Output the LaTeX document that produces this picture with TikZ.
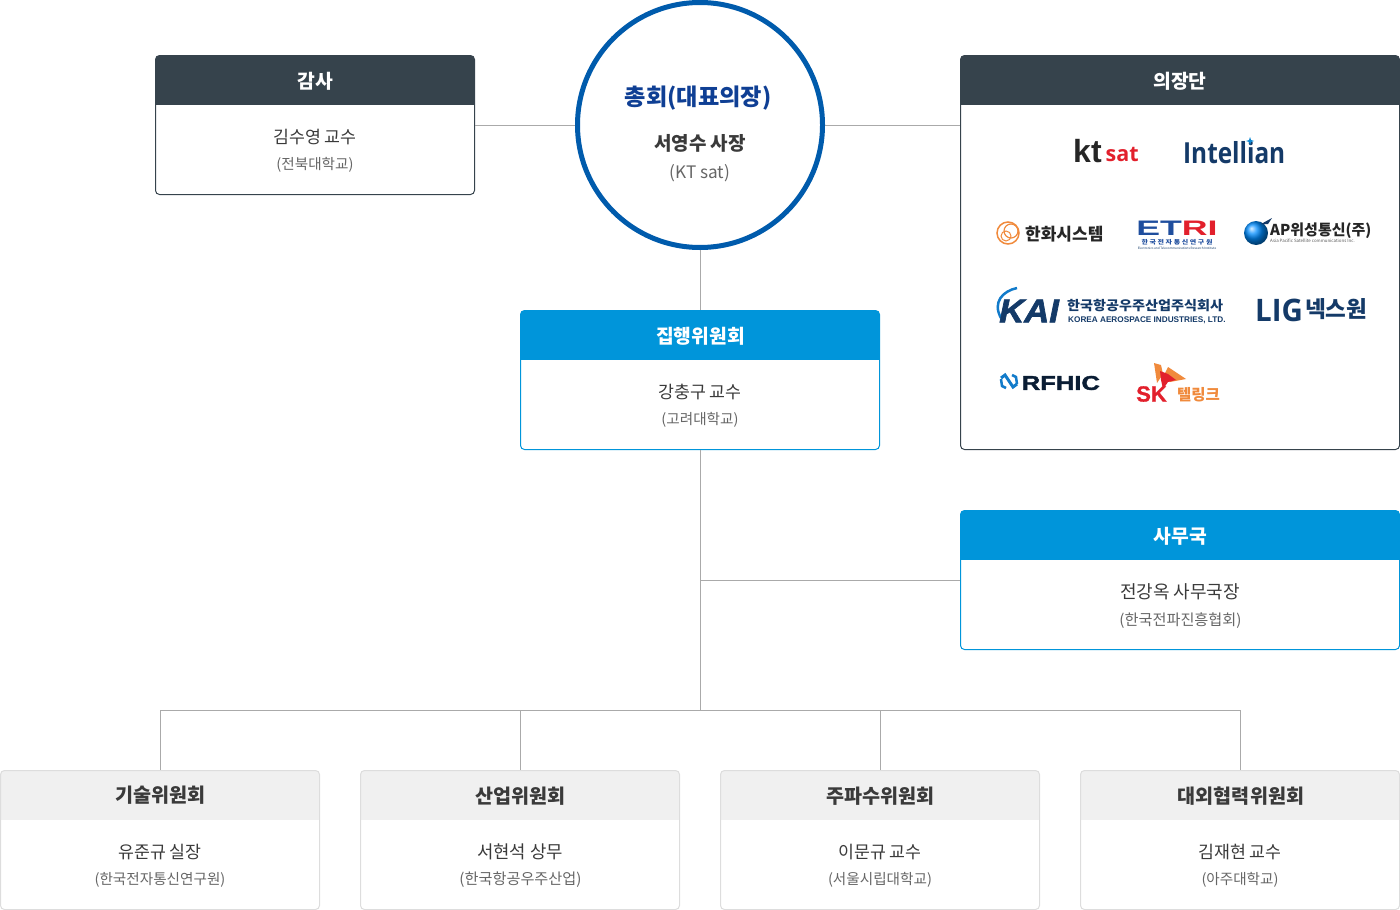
\documentclass[tikz,border=0pt]{standalone}
\usepackage{fontspec}
\setmainfont{Noto Sans CJK KR}
\newfontfamily\logofont{Liberation Sans}
\newfontfamily\openfont{Open Sans}
\usetikzlibrary{positioning}
\definecolor{slatehead}{HTML}{36434C}
\definecolor{skyhead}{HTML}{0095DA}
\definecolor{palehead}{HTML}{F0F0F0}
\definecolor{paleline}{HTML}{DDDDDD}
\definecolor{ringblue}{HTML}{005BAC}
\definecolor{titleblue}{HTML}{0F3F94}
\definecolor{linkgray}{HTML}{AAAAAA}
\definecolor{namegray}{HTML}{3A3A3A}
\definecolor{orggray}{HTML}{666666}
\definecolor{navylogo}{HTML}{143A68}
\definecolor{etriblue}{HTML}{1F4E9E}
\definecolor{redlogo}{HTML}{E2202C}
\definecolor{orangelogo}{HTML}{F08A3C}
\tikzset{
    orgbox/.style n args={4}{draw=#1, line width=1pt, rounded corners=4pt, inner sep=0pt,
        minimum width=#3, minimum height=#4,
        path picture={\fill[#2, sharp corners] (path picture bounding box.north west) rectangle ([yshift=-49.5pt]path picture bounding box.north east);}},
    link/.style={draw=linkgray, line width=1pt},
    whitehead/.style={text=white, font=\fontsize{19.3}{22}\selectfont\bfseries},
    darkhead/.style={text=namegray, font=\fontsize{19.6}{24}\selectfont\bfseries},
    nametext/.style={text=namegray, font=\fontsize{17.3}{22}\selectfont},
    orgtext/.style={text=orggray, font=\fontsize{14.6}{18}\selectfont},
    wideorgtext/.style={text=orggray, font=\fontsize{15.2}{18}\selectfont},
    logotext/.style={inner sep=0pt, anchor=west},
}
\begin{document}
\begin{tikzpicture}[x=1pt,y=-1pt]
    \useasboundingbox (0,0) rectangle (1400,910);

    % boxes
    \node[draw=ringblue, line width=5pt, circle, minimum size=245pt, inner sep=0pt] (chair) at (700,125) {};
    \node[orgbox={slatehead}{slatehead}{319pt}{139pt}] (audit) at (315,125) {};
    \node[orgbox={slatehead}{slatehead}{439pt}{394pt}] (board) at (1180,252.5) {};
    \node[orgbox={skyhead}{skyhead}{359pt}{139pt}] (exec) at (700,380) {};
    \node[orgbox={skyhead}{skyhead}{439pt}{139pt}] (office) at (1180,580) {};
    \node[orgbox={paleline}{palehead}{319pt}{139pt}] (tech) at (160,840) {};
    \node[orgbox={paleline}{palehead}{319pt}{139pt}] (industry) at (520,840) {};
    \node[orgbox={paleline}{palehead}{319pt}{139pt}] (spectrum) at (880,840) {};
    \node[orgbox={paleline}{palehead}{319pt}{139pt}] (relations) at (1240,840) {};
    \coordinate (hub) at (700,710);

    % connectors
    \draw[link] (audit.east) -- (chair.west);
    \draw[link] (chair.east) -- (chair.east -| board.west);
    \draw[link] (chair.south) -- (exec.north);
    \draw[link] (exec.south) -- (hub);
    \draw[link] (office.west -| hub) -- (office.west);
    \draw[link] (hub) -| (tech.north);
    \draw[link] (hub) -| (industry.north);
    \draw[link] (hub) -| (spectrum.north);
    \draw[link] (hub) -| (relations.north);

    % chair text
    \node[text=titleblue, font=\fontsize{23.2}{28}\selectfont\bfseries] (chairHead) at (698,98.5) {총회(대표의장)};
    \node[text=namegray, font=\fontsize{19}{22}\selectfont\bfseries] (chairName) at (700,143) {서영수 사장};
    \node[text=orggray, font=\fontsize{17.2}{22}\selectfont] (chairOrg) at (700,173.5) {(KT sat)};

    % audit text
    \node[whitehead] (auditHead) at (315,81) {감사};
    \node[nametext] (auditName) at (315,137) {김수영 교수};
    \node[orgtext] (auditOrg) at (315,165) {(전북대학교)};

    % board head
    \node[whitehead] (boardHead) at (1180,81) {의장단};

    % exec text
    \node[whitehead] (execHead) at (700.5,336) {집행위원회};
    \node[nametext] (execName) at (700,392) {강충구 교수};
    \node[orgtext] (execOrg) at (700,420) {(고려대학교)};

    % office text
    \node[whitehead] (officeHead) at (1180.5,536) {사무국};
    \node[text=namegray, font=\fontsize{18}{22}\selectfont] (officeName) at (1180,592) {전강옥 사무국장};
    \node[wideorgtext] (officeOrg) at (1180.5,620.5) {(한국전파진흥협회)};

    % committee text
    \node[darkhead] (techHead) at (160.5,795) {기술위원회};
    \node[nametext] (techName) at (160,852) {유준규 실장};
    \node[orgtext] (techOrg) at (160,880) {(한국전자통신연구원)};
    \node[darkhead] (industryHead) at (520.5,796) {산업위원회};
    \node[text=namegray, font=\fontsize{17.8}{22}\selectfont] (industryName) at (520,852) {서현석 상무};
    \node[wideorgtext] (industryOrg) at (520.5,880) {(한국항공우주산업)};
    \node[darkhead] (spectrumHead) at (880.5,796) {주파수위원회};
    \node[nametext] (spectrumName) at (880,852) {이문규 교수};
    \node[orgtext] (spectrumOrg) at (880,880) {(서울시립대학교)};
    \node[darkhead] (relationsHead) at (1241,796) {대외협력위원회};
    \node[nametext] (relationsName) at (1240,852) {김재현 교수};
    \node[orgtext] (relationsOrg) at (1240,880) {(아주대학교)};

    % logos, first row
    \node[logotext, text=black!85, font=\logofont\fontsize{32}{32}\selectfont\bfseries] (ktLogo) at (1073,151) {kt};
    \node[logotext, text=redlogo, font=\openfont\fontsize{21.5}{24}\selectfont\bfseries] (satLogo) at (1105.5,154) {sat};
    \node[logotext, xscale=0.84, text=navylogo, font=\openfont\fontsize{29}{30}\selectfont\bfseries] (intellianLogo) at (1183,153) {Intellian};
    \fill[cyan!70!blue] (1250,137) -- (1251,140) -- (1254,141) -- (1251,142) -- (1250,145) -- (1249,142) -- (1246,141) -- (1249,140) -- cycle;

    % logos, second row
    \draw[orangelogo, line width=1.5pt] (1008,233) circle (11);
    \draw[orangelogo, line width=1.2pt] (1011,231) circle (7);
    \draw[orangelogo, line width=1pt] (1006,236) circle (5);
    \node[logotext, text=black!85, font=\fontsize{17}{18}\selectfont\bfseries] (hanwhaLogo) at (1025,234) {한화시스템};
    \node[inner sep=0pt, xscale=1.7, text=etriblue, font=\logofont\fontsize{21}{21}\selectfont\bfseries] (etriLogo) at (1177,228) {ET\textcolor{redlogo}{RI}};
    \node[inner sep=0pt, xscale=1.17, text=etriblue, font=\fontsize{6}{7}\selectfont\bfseries] (etriKorean) at (1177,242) {한 국 전 자 통 신 연 구 원};
    \node[inner sep=0pt, text=navylogo, font=\fontsize{3.05}{3.5}\selectfont] (etriEnglish) at (1177,248) {Electronics and Telecommunications Research Institute};
    \shade[ball color=blue!45!cyan] (1256,233) circle (12);
    \fill[navylogo] (1261,224) -- (1272,218) -- (1268,224) -- cycle;
    \node[logotext, text=black!85, font=\fontsize{15}{18}\selectfont\bfseries] (apLogo) at (1270,231) {AP위성통신(주)};
    \node[logotext, text=black!65, font=\fontsize{4.4}{5}\selectfont] (apEnglish) at (1270,241) {Asia Pacific Satellite communications Inc.};

    % logos, third row
    \draw[cyan!60!blue, line width=2.5pt] (1001,318) .. controls (992,302) and (1003,291) .. (1017,288);
    \node[logotext, xscale=1.05, text=navylogo, font=\logofont\fontsize{33}{33}\selectfont\bfseries\itshape\addfontfeature{FakeBold=2}] (kaiLogo) at (999,311) {KAI};
    \node[logotext, xscale=1.07, text=navylogo, font=\fontsize{13.2}{14}\selectfont\bfseries] (kaiKorean) at (1067,306) {한국항공우주산업주식회사};
    \node[logotext, text=navylogo, font=\logofont\fontsize{8.2}{9}\selectfont\bfseries] (kaiEnglish) at (1068,320) {KOREA AEROSPACE INDUSTRIES, LTD.};
    \node[logotext, xscale=0.95, text=navylogo, font=\openfont\fontsize{31}{31}\selectfont\bfseries] (ligLogo) at (1255,310) {LIG};
    \node[logotext, text=navylogo, font=\fontsize{22.5}{24}\selectfont\bfseries] (nexLogo) at (1305,309) {넥스원};

    % logos, fourth row
    \draw[cyan!60!blue, line width=3pt] (1001,378) -- (1005,375) -- (1013,387) -- (1017,384);
    \draw[cyan!60!blue, line width=2.5pt] (1001,379) -- (1002,386) -- (1006,388);
    \draw[cyan!60!blue, line width=2.5pt] (1017,384) -- (1016,377) -- (1012,375);
    \node[logotext, xscale=1.28, text=navylogo!50!black, font=\logofont\fontsize{20}{20}\selectfont\bfseries\addfontfeature{FakeBold=1.5}] (rfhicLogo) at (1021.5,383) {RFHIC};
    \fill[orangelogo] (1154,363) -- (1161,365) -- (1163,374) -- (1157,383) -- cycle;
    \fill[orangelogo] (1168,367) -- (1186,379) -- (1170,382) -- (1164,375) -- cycle;
    \fill[redlogo] (1160,371) -- (1168,374) -- (1176,380) -- (1168,382) -- (1163,389) -- (1161,380) -- cycle;
    \node[logotext, text=redlogo, font=\logofont\fontsize{22}{22}\selectfont\bfseries\addfontfeature{FakeBold=1}] (skLogo) at (1136,394) {SK};
    \node[logotext, text=orangelogo, font=\fontsize{15.5}{16}\selectfont\bfseries] (telinkLogo) at (1177,395) {텔링크};

\end{tikzpicture}
\end{document}
